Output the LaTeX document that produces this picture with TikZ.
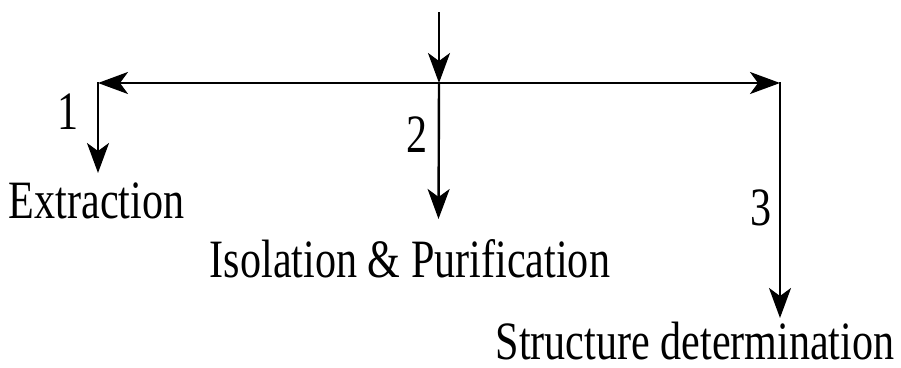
\documentclass[tikz,border=0pt]{standalone}
\usepackage{fontspec}
\setmainfont{Liberation Serif}[FakeStretch=0.78]
\usetikzlibrary{arrows.meta}
\begin{document}
\begin{tikzpicture}[x=1pt,y=-1pt,
  conn/.style={line width=2.4pt,-{Stealth[length=30pt,width=22pt,inset=8pt]}},
  lbl/.style={font=\fontsize{54}{60}\selectfont,inner sep=0pt,anchor=base,text depth=0pt},
  num/.style={font=\fontsize{54}{60}\selectfont,inner sep=0pt}]
\useasboundingbox (0,0) rectangle (901,367);
\coordinate (src) at (439,12);
\coordinate (J) at (439,83);
\coordinate (L) at (98,83);
\coordinate (R) at (780,83);
\coordinate (t1) at (98,173);
\coordinate (t2) at (438.5,219);
\coordinate (t3) at (780,318);
\node[lbl] (ext) at (96.5,218) {Extraction};
\node[lbl] (iso) at (410,277) {Isolation \& Purification};
\node[lbl] (str) at (695,359) {Structure determination};
\node[num] (n1) at (68.5,112) {1};
\node[num] (n2) at (417,135) {2};
\node[num] (n3) at (761,208) {3};
\draw[conn] (src) -- (J);
\draw[conn] (J) -- (L);
\draw[conn] (J) -- (R);
\draw[conn,line cap=rect] (L) -- (t1);
\draw[conn] (J) -- (t2);
\draw[conn,line cap=rect] (R) -- (t3);
\end{tikzpicture}
\end{document}
